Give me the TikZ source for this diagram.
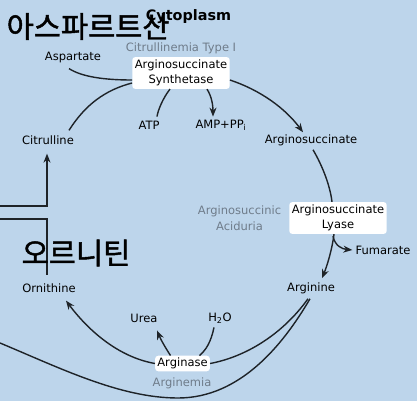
\documentclass[tikz,border=0pt]{standalone}
\usepackage{fontspec}
\setmainfont{DejaVu Sans}
\newfontfamily\krfont[FakeBold=1.6]{Noto Sans CJK KR}
\usetikzlibrary{arrows.meta,calc}
\definecolor{bg}{HTML}{BDD5EB}
\definecolor{gr}{HTML}{6F7C8A}
\definecolor{ln}{HTML}{1E2328}
\tikzset{
  lbl/.style={font=\fontsize{11.5}{15.5}\selectfont, text=black, inner sep=0pt},
  gry/.style={lbl, text=gr, align=center},
  enz/.style={lbl, fill=white, rounded corners=3pt, inner sep=2.6pt, align=center},
  conn/.style={draw=ln, line width=1.4pt},
  arr/.style={conn, -{Stealth[length=9pt,width=7pt]}},
  kr/.style={font=\krfont\fontsize{29.5}{32}\selectfont, text=black, inner sep=0pt, anchor=west}
}
\begin{document}
\begin{tikzpicture}[x=1pt,y=-1pt]
\fill[bg] (0,0) rectangle (417,401);
\useasboundingbox (0,0) rectangle (417,401);

% nodes
\node[lbl, font=\bfseries\fontsize{14.4}{16}\selectfont] (cyto) at (188.5,17) {Cytoplasm};
\node[gry] (ct1) at (181,48) {Citrullinemia Type I};
\node[enz] (syn) at (181,73) {Arginosuccinate\\Synthetase};
\node[lbl] (asp) at (73,58) {Aspartate};
\node[lbl] (cit) at (48,140) {Citrulline};
\node[lbl] (atp) at (149,125) {ATP};
\node[lbl] (amp) at (221,125) {AMP+PP\textsubscript{i}};
\node[lbl] (asu) at (311,140) {Arginosuccinate};
\node[gry] (aa) at (239.5,218) {Arginosuccinic\\Aciduria};
\node[enz] (lya) at (338,218) {Arginosuccinate\\Lyase};
\node[lbl] (fum) at (383,250) {Fumarate};
\node[lbl] (arg) at (311,288) {Arginine};
\node[lbl] (orn) at (49,288) {Ornithine};
\node[lbl] (urea) at (144,318) {Urea};
\node[lbl] (h2o) at (220,318) {H\textsubscript{2}O};
\node[enz, inner sep=2.2pt] (ase) at (182.5,363.5) {Arginase};
\node[gry] (ame) at (182,383) {Arginemia};

\coordinate (l1) at (0,206);
\coordinate (l2) at (0,219);
\coordinate (lft) at (0,343);

% connectors
\draw[conn] ($(asp.south)+(-4,5)$) .. controls (82,77) and (105,80) .. ($(syn.west)+(0,7)$);
\draw[conn] ($(cit.north)+(21,-5)$) .. controls (85,105) and (105,90) .. ($(syn.west)+(0,10)$);
\draw[conn] ($(syn.south)+(-11,0)$) .. controls (163,98) and (158,110) .. ($(atp.north)+(8,-4)$);
\draw[arr] ($(syn.south)+(26,0)$) .. controls (212,97) and (213,106) .. ($(amp.north)+(-8,-3)$);
\draw[arr] ($(syn.east)+(0,7)$) .. controls (260,90) and (285,108) .. ($(asu.north)+(-8,-2)$);
\draw[conn] ($(asu.south)+(2,4)$) .. controls (322,165) and (330,185) .. ($(lya.north)+(-6,0)$);
\draw[arr] ($(lya.south)+(-4,0)$) .. controls (332,250) and (327,266) .. ($(arg.north)+(11,-4)$);
\draw[arr] ($(lya.south)+(-5,2)$) .. controls (335,246) and (342,249) .. ($(fum.west)+(-3,0)$);
\draw[conn] ($(arg.south)+(-3,5)$) .. controls (282,335) and (245,357) .. ($(ase.east)+(0,0)$);
\draw[conn] (lft) .. controls (60,368) and (120,398) .. (178,398)
  .. controls (240,398) and (283,345) .. ($(arg.south)+(-1,5)$);
\draw[arr] (ase.west) .. controls (118,357) and (88,330) .. ($(orn.south)+(17,8)$);
\draw[arr] ($(ase.north)+(-12,0)$) .. controls (165,347) and (161,340) .. ($(urea.south)+(13,8)$);
\draw[conn] ($(h2o.south)+(-6,4)$) .. controls (211,342) and (206,350) .. ($(ase.north)+(17,0)$);
\draw[arr] (l1) -| ($(cit.south)+(-1,9)$);
\draw[conn] (l2) -| ($(orn.north)+(-2,-8)$);

% Korean overlay text
\node[kr] (k1) at (6.5,26.5) {아스파르트산};
\node[kr] (k2) at (21.5,253) {오르니틴};
\end{tikzpicture}
\end{document}
